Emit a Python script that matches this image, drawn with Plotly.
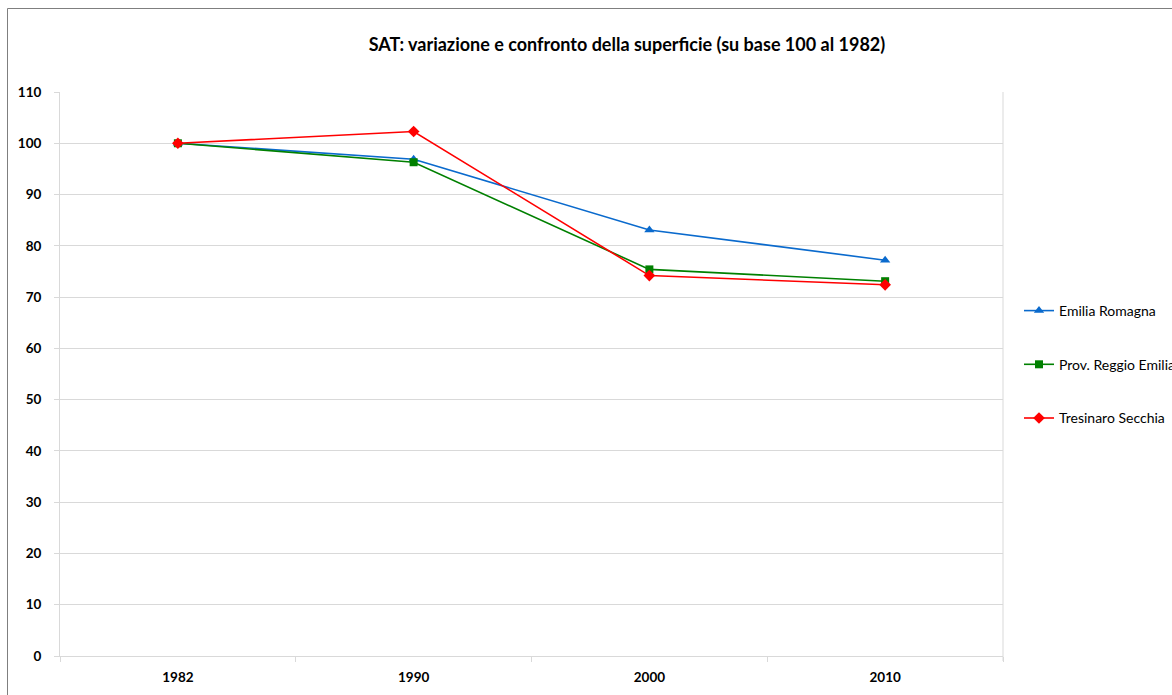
import plotly.graph_objects as go

years = ["1982", "1990", "2000", "2010"]
emilia_romagna = [100, 96.9, 83.1, 77.2]
prov_reggio = [100, 96.3, 75.4, 73.1]
tresinaro = [100, 102.3, 74.2, 72.4]
series_names = ["Emilia Romagna", "Prov. Reggio Emilia", "Tresinaro Secchia"]
colors = ["#0A6ACD", "#008000", "#FF0000"]
symbols = ["triangle-up", "square", "diamond"]
marker_sizes = [9, 8, 9]

FONT = "Lato, Calibri, 'Liberation Sans', sans-serif"
W, H = 1172, 695
L, R, T, B = 60, 1003, 92, 656

fig = go.Figure()
for i, (name, vals) in enumerate(zip(series_names, [emilia_romagna, prov_reggio, tresinaro])):
    fig.add_trace(go.Scatter(
        x=years, y=vals, name=name, mode="lines+markers",
        line=dict(color=colors[i], width=1.6),
        marker=dict(symbol=symbols[i], size=marker_sizes[i], color=colors[i]),
        legendgroup=f"g{i}",
    ))

def px_x(px):
    return (px - L) / (R - L)

def px_y(py):
    return (B - py) / (B - T)

fig.add_shape(type="rect", xref="paper", yref="paper",
              x0=px_x(7.5), x1=px_x(1180), y0=px_y(8.5), y1=px_y(700),
              line=dict(color="#7f7f7f", width=1), layer="below")
fig.add_shape(type="line", xref="paper", yref="paper",
              x0=1, x1=1, y0=px_y(661), y1=1,
              line=dict(color="#d9d9d9", width=1), layer="below")

fig.update_layout(
    width=W, height=H,
    margin=dict(l=L, r=W - R, t=T, b=H - B, autoexpand=False),
    paper_bgcolor="white", plot_bgcolor="white",
    font=dict(family=FONT, color="black", size=12),
    title=dict(text="<b>SAT: variazione e confronto della superficie (su base 100 al 1982)</b>",
               x=627 / W, xanchor="center", y=1 - 45 / H, yanchor="middle",
               font=dict(size=18, family=FONT)),
    showlegend=True,
    legend=dict(x=px_x(1019), xanchor="left", y=px_y(295), yanchor="top",
                traceorder="grouped", tracegroupgap=32.5,
                font=dict(size=14, family=FONT), bgcolor="rgba(0,0,0,0)",
                itemwidth=30),
    xaxis=dict(type="category", tickson="boundaries", ticks="outside", ticklen=5,
               tickcolor="#d9d9d9", showline=True, linecolor="#d9d9d9", linewidth=1,
               showgrid=False, zeroline=False, ticklabelstandoff=9,
               tickfont=dict(size=13.5, family=FONT), tickprefix="<b>", ticksuffix="</b>",
               range=[-0.5, 3.5]),
    yaxis=dict(range=[0, 110], dtick=10, tick0=0, ticks="outside", ticklen=5,
               tickcolor="#d9d9d9", showline=True, linecolor="#d9d9d9", linewidth=1,
               showgrid=True, gridcolor="#d9d9d9", gridwidth=1, zeroline=False,
               ticklabelstandoff=10,
               tickfont=dict(size=13.5, family=FONT), tickprefix="<b>", ticksuffix="</b>"),
)

fig.write_html("out.html", config={"displayModeBar": False},
               post_script="document.body.style.margin='0';")
